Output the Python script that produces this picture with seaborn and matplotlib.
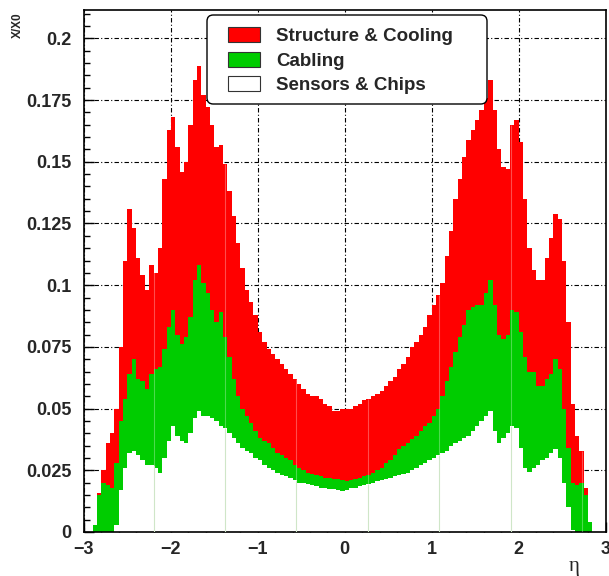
import numpy as np
import pandas as pd
import matplotlib
matplotlib.use("Agg")
import matplotlib.pyplot as plt
import seaborn as sns
from matplotlib.patches import Patch, FancyBboxPatch
from matplotlib.ticker import MultipleLocator
from matplotlib.font_manager import FontProperties

# ---------------- data ----------------
eta_min, eta_max, n_bins = -3.0, 3.0, 120   # bins of width 0.05

# cumulative stack levels (top of each coloured band) per eta bin
total_top = [
    0, 0, 0.003, 0.016, 0.025, 0.036, 0.040, 0.050, 0.075, 0.110,
    0.131, 0.123, 0.111, 0.104, 0.098, 0.108, 0.105, 0.115, 0.143, 0.163,
    0.168, 0.156, 0.146, 0.150, 0.165, 0.183, 0.189, 0.177, 0.172, 0.165,
    0.156, 0.157, 0.149, 0.138, 0.128, 0.117, 0.107, 0.098, 0.093, 0.088,
    0.081, 0.077, 0.074, 0.072, 0.070, 0.068, 0.066, 0.064, 0.062, 0.060,
    0.058, 0.056, 0.055, 0.055, 0.054, 0.052, 0.051, 0.049, 0.049, 0.050,
    0.050, 0.050, 0.051, 0.052, 0.0535, 0.054, 0.055, 0.056, 0.057, 0.059,
    0.061, 0.063, 0.066, 0.068, 0.071, 0.075, 0.077, 0.080, 0.083, 0.088,
    0.092, 0.096, 0.101, 0.112, 0.122, 0.135, 0.143, 0.152, 0.159, 0.163,
    0.167, 0.171, 0.176, 0.183, 0.171, 0.155, 0.148, 0.147, 0.165, 0.167,
    0.158, 0.135, 0.115, 0.106, 0.102, 0.102, 0.111, 0.119, 0.129, 0.127,
    0.110, 0.085, 0.052, 0.039, 0.033, 0.018, 0.004, 0, 0, 0,
]
cabling_top = [
    0, 0, 0.003, 0.015, 0.020, 0.019, 0.018, 0.028, 0.045, 0.054,
    0.064, 0.070, 0.062, 0.061, 0.058, 0.064, 0.066, 0.067, 0.074, 0.083,
    0.090, 0.080, 0.076, 0.079, 0.087, 0.102, 0.108, 0.101, 0.097, 0.090,
    0.085, 0.089, 0.079, 0.071, 0.062, 0.055, 0.050, 0.047, 0.044, 0.041,
    0.038, 0.037, 0.036, 0.034, 0.032, 0.031, 0.030, 0.029, 0.027, 0.026,
    0.025, 0.024, 0.0235, 0.023, 0.0227, 0.022, 0.022, 0.0215, 0.0214, 0.021,
    0.0207, 0.021, 0.0215, 0.022, 0.0225, 0.023, 0.024, 0.025, 0.026, 0.028,
    0.029, 0.031, 0.0335, 0.035, 0.036, 0.0375, 0.039, 0.041, 0.043, 0.044,
    0.047, 0.050, 0.055, 0.061, 0.067, 0.073, 0.079, 0.084, 0.090, 0.091,
    0.092, 0.092, 0.097, 0.102, 0.092, 0.080, 0.078, 0.080, 0.090, 0.089,
    0.081, 0.071, 0.065, 0.065, 0.059, 0.059, 0.062, 0.064, 0.070, 0.066,
    0.050, 0.034, 0.020, 0.019, 0.020, 0.015, 0.004, 0, 0, 0,
]
sensors_top = [
    0, 0, 0, 0, 0, 0, 0, 0.003, 0.017, 0.026,
    0.032, 0.033, 0.031, 0.029, 0.027, 0.027, 0.026, 0.024, 0.030, 0.037,
    0.043, 0.039, 0.037, 0.036, 0.040, 0.046, 0.049, 0.047, 0.047, 0.046,
    0.045, 0.043, 0.042, 0.040, 0.038, 0.036, 0.034, 0.033, 0.032, 0.030,
    0.029, 0.027, 0.026, 0.025, 0.024, 0.023, 0.0225, 0.022, 0.021, 0.020,
    0.0198, 0.0194, 0.019, 0.0185, 0.018, 0.0177, 0.0175, 0.0173, 0.017, 0.0167,
    0.017, 0.0178, 0.018, 0.0185, 0.019, 0.0195, 0.020, 0.0205, 0.021, 0.0215,
    0.022, 0.0225, 0.023, 0.0235, 0.024, 0.025, 0.026, 0.027, 0.028, 0.029,
    0.030, 0.031, 0.032, 0.033, 0.035, 0.036, 0.037, 0.038, 0.039, 0.041,
    0.043, 0.045, 0.047, 0.049, 0.041, 0.036, 0.038, 0.040, 0.043, 0.042,
    0.034, 0.026, 0.0245, 0.026, 0.027, 0.029, 0.030, 0.032, 0.0335, 0.030,
    0.020, 0.010, 0.001, 0, 0, 0, 0, 0, 0, 0,
]

components = ["Structure & Cooling", "Cabling", "Sensors & Chips"]
colors = ["#ff0000", "#00cc00", "#ffffff"]

xticks = [-3, -2, -1, 0, 1, 2, 3]
xtick_labels = ["\u22123", "\u22122", "\u22121", "0", "1", "2", "3"]
yticks = [0, 0.025, 0.05, 0.075, 0.1, 0.125, 0.15, 0.175, 0.2]
ytick_labels = ["0", "0.025", "0.05", "0.075", "0.1", "0.125", "0.15", "0.175", "0.2"]

# thin light stripes visible in the reference
gap_eta = [-2.2, -1.38, -0.56, 0.27, 1.09, 1.91, 2.73]

# ---------------- build frame ----------------
assert len(total_top) == len(cabling_top) == len(sensors_top) == n_bins
edges = np.linspace(eta_min, eta_max, n_bins + 1)
centers = 0.5 * (edges[:-1] + edges[1:])
T = np.array(total_top, float)
G = np.array(cabling_top, float)
W = np.array(sensors_top, float)
values = {
    "Structure & Cooling": np.clip(T - G, 0, None),
    "Cabling": np.clip(G - W, 0, None),
    "Sensors & Chips": W,
}
df = pd.DataFrame({
    "eta": np.tile(centers, 3),
    "xx0": np.concatenate([values[c] for c in components]),
    "component": np.repeat(components, n_bins),
})

# ---------------- plot ----------------
sns.set_style("white")
plt.rcParams["font.family"] = ["Liberation Sans", "DejaVu Sans"]

W_PX, H_PX = 609, 576
AX_L, AX_R, AX_T, AX_B = 84, 605.5, 10, 532
fig = plt.figure(figsize=(W_PX / 100, H_PX / 100), dpi=100)
ax = fig.add_axes([AX_L / W_PX, (H_PX - AX_B) / H_PX,
                   (AX_R - AX_L) / W_PX, (AX_B - AX_T) / H_PX])

sns.histplot(
    data=df, x="eta", weights="xx0", hue="component", hue_order=components,
    palette=dict(zip(components, colors)), bins=edges.tolist(), multiple="stack",
    element="step", fill=True, alpha=1, linewidth=0, legend=False, ax=ax,
)

for g in gap_eta:
    i = int(np.clip(np.searchsorted(edges, g) - 1, 0, n_bins - 1))
    if W[i] > 0:
        ax.vlines(g, 0, W[i], color="#cfe6c8", lw=0.8, zorder=3)
    ax.vlines(g, max(W[i], 0), T[i], color="white", alpha=0.3, lw=0.8, zorder=3)

ax.set_xlim(eta_min, eta_max)
ax.set_ylim(0, 0.2115)
ax.set_xlabel("")
ax.set_ylabel("")

tick_font = FontProperties(family="Liberation Sans", weight="bold", size=13)
ax.set_xticks(xticks)
ax.set_xticklabels(xtick_labels, fontproperties=tick_font)
ax.set_yticks(yticks)
ax.set_yticklabels(ytick_labels, fontproperties=tick_font)
ax.xaxis.set_minor_locator(MultipleLocator(0.2))
ax.yaxis.set_minor_locator(MultipleLocator(0.005))
ax.tick_params(which="major", direction="in", length=7.5, width=1, color="black")
ax.tick_params(which="minor", direction="in", length=4.3, width=1, color="black")
ax.tick_params(axis="x", which="major", pad=6.5)
ax.tick_params(axis="y", which="major", pad=9)
ax.tick_params(bottom=True, left=True, top=False, right=False, which="both")

ax.grid(True, which="major", color="black", lw=0.8, linestyle=(0, (4, 2, 1, 2)))
ax.set_axisbelow(True)
for s in ax.spines.values():
    s.set_visible(True)
    s.set_color("black")
    s.set_linewidth(1.2)

# legend with rounded frame
def ax_x(px):
    return (px - AX_L) / (AX_R - AX_L)

def ax_y(py):
    return (AX_B - py) / (AX_B - AX_T)

frame = FancyBboxPatch(
    (ax_x(207), ax_y(104)), ax_x(487) - ax_x(207), ax_y(15) - ax_y(104),
    boxstyle="round,pad=0,rounding_size=0.012", transform=ax.transAxes,
    facecolor="white", edgecolor="black", linewidth=1.0, zorder=5,
)
ax.add_patch(frame)
handles = [Patch(facecolor=c, edgecolor="#333333", linewidth=0.8, label=l)
           for c, l in zip(colors, components)]
leg = ax.legend(
    handles=handles, loc="upper left",
    bbox_to_anchor=(ax_x(228), ax_y(27)),
    frameon=False, borderpad=0, borderaxespad=0, handlelength=1.7,
    handleheight=0.85, handletextpad=0.85, labelspacing=0.36,
    prop=FontProperties(family="Liberation Sans", weight="bold", size=13.5),
)
leg.set_zorder(6)

fig.text(18 / W_PX, 1 - 12 / H_PX, "X/X0", rotation=90, ha="center", va="top",
         fontsize=8.5, fontweight="bold", family="Liberation Sans")
fig.text(574 / W_PX, 1 - 567 / H_PX, "\u03b7", ha="center", va="center",
         fontsize=15, family="Liberation Serif")

fig.savefig("out.png", dpi=100)
